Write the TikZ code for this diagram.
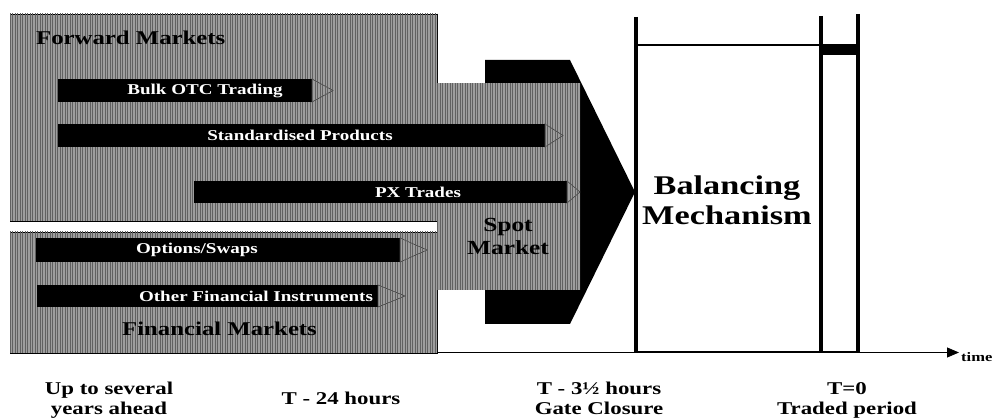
\documentclass[tikz,border=0pt]{standalone}
\usepackage{fontspec}
\setmainfont{Liberation Serif}
\usetikzlibrary{arrows.meta,patterns.meta}
\newcommand{\stretchtxt}[1]{\scalebox{1.27}[1]{#1}}
\begin{document}
\begin{tikzpicture}[x=1pt,y=-1pt,
  hatch/.style={fill=black!38,postaction={pattern={Lines[distance=2.5pt,angle=90,line width=0.9pt]},pattern color=black!62}},
  bar/.style={fill=black},
  head/.style={hatch,draw=black!75,line width=0.6pt},
  barlbl/.style={text=white,font=\fontsize{15}{17}\selectfont\bfseries,inner sep=0pt},
  mktlbl/.style={text=black,font=\fontsize{19.5}{22}\selectfont\bfseries,inner sep=0pt,anchor=base west},
  lbl/.style={font=\fontsize{18}{20}\selectfont\bfseries,inner sep=0pt,anchor=base},
  bmline/.style={line width=3.6pt},
]
\useasboundingbox (0,0) rectangle (994,419);
% market boxes
\filldraw[hatch,draw=black,line width=0.8pt] (10,14) rectangle (437,221);
\filldraw[hatch,draw=black,line width=0.8pt] (10,232) rectangle (437,353);
% black chevron
\fill[black] (485,60) -- (570,60) -- (635,192) -- (570,324) -- (485,324) -- cycle;
% spot box
\fill[hatch] (437,83) rectangle (580,290);
% bars
\fill[bar] (58,79) rectangle (312,102);
\filldraw[head] (312,79) -- (333,90.5) -- (312,102) -- cycle;
\fill[bar] (58,124) rectangle (545,147);
\filldraw[head] (545,124) -- (563,135.5) -- (545,147) -- cycle;
\fill[bar] (194,181) rectangle (567,203);
\filldraw[head] (567,181) -- (580,192) -- (567,203) -- cycle;
\fill[bar] (36,238) rectangle (400,262);
\filldraw[head] (400,238) -- (427,250) -- (400,262) -- cycle;
\fill[bar] (37,285) rectangle (378,307);
\filldraw[head] (378,285) -- (405,296) -- (378,307) -- cycle;
% bar labels
\node[barlbl] (bulk) at (205,90.5) {\stretchtxt{Bulk OTC Trading}};
\node[barlbl] (std) at (300,135.5) {\stretchtxt{Standardised Products}};
\node[barlbl] (px) at (418,192) {\stretchtxt{PX Trades}};
\node[barlbl] (opt) at (197,250) {\stretchtxt{Options/Swaps}};
\node[barlbl] (ofi) at (256,296) {\stretchtxt{Other Financial Instruments}};
% market labels
\node[mktlbl] (fwd) at (36,45) {\stretchtxt{Forward Markets}};
\node[mktlbl] (fin) at (122,336) {\stretchtxt{Financial Markets}};
\node[font=\fontsize{20}{23}\selectfont\bfseries,align=center,inner sep=0pt] (spot) at (508,236) {\stretchtxt{Spot}\\\stretchtxt{Market}};
% balancing mechanism
\draw[line width=2pt] (636,45) -- (821,45);
\fill[black] (821,44) rectangle (858,55);
\draw[bmline] (636,17) -- (636,353);
\draw[bmline] (821,16) -- (821,353);
\draw[bmline] (858,14) -- (858,353);
\draw[line width=2.5pt] (636,352) -- (858,352);
\node[font=\fontsize{27}{30}\selectfont\bfseries,align=center,inner sep=0pt] (bm) at (727,200) {\stretchtxt{Balancing}\\\stretchtxt{Mechanism}};
% time axis
\coordinate (ax0) at (437,352.5);
\coordinate (ax1) at (959,352.5);
\draw[line width=0.9pt,-{Triangle[length=12pt,width=10pt]}] (ax0) -- (ax1);
\node[font=\fontsize{13}{15}\selectfont\bfseries,inner sep=0pt,anchor=base west] (time) at (961,362) {\stretchtxt{time}};
% bottom labels
\node[lbl] (l1a) at (109,395) {\stretchtxt{Up to several}};
\node[lbl] (l1b) at (109,415) {\stretchtxt{years ahead}};
\node[lbl] (l2) at (341,405) {\stretchtxt{T - 24 hours}};
\node[lbl] (l3a) at (599,395) {\stretchtxt{T - 3½ hours}};
\node[lbl] (l3b) at (599,415) {\stretchtxt{Gate Closure}};
\node[lbl] (l4a) at (847,395) {\stretchtxt{T=0}};
\node[lbl] (l4b) at (847,415) {\stretchtxt{Traded period}};
\end{tikzpicture}
\end{document}
